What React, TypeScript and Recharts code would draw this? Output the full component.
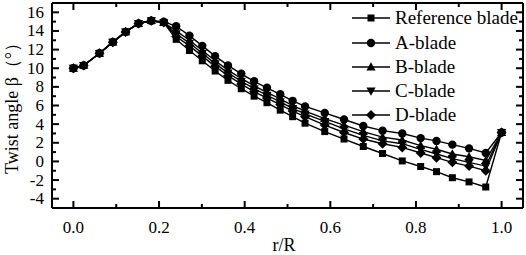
import * as React from "react";
import { LineChart, Line, XAxis, YAxis, Legend } from "recharts";

// r/R stations along the blade
const rValues = [
  0.0, 0.024, 0.061, 0.092, 0.122, 0.152, 0.182, 0.211, 0.24, 0.271, 0.301,
  0.331, 0.361, 0.392, 0.422, 0.452, 0.483, 0.512, 0.541, 0.587, 0.632, 0.677,
  0.722, 0.768, 0.811, 0.848, 0.885, 0.924, 0.963, 1.0,
];

// twist angle (deg) per blade
const refBlade = [
  10.0, 10.3, 11.6, 12.8, 13.9, 14.8, 15.1, 14.9, 13.1, 11.9, 10.8, 9.7, 8.7,
  7.8, 7.0, 6.3, 5.5, 4.8, 4.1, 3.2, 2.4, 1.6, 0.85, 0.05, -0.55, -1.1, -1.75,
  -2.2, -2.75, 3.1,
];
const aBlade = [
  10.0, 10.3, 11.6, 12.8, 13.9, 14.8, 15.1, 15.0, 14.5, 13.5, 12.4, 11.3, 10.3,
  9.4, 8.6, 7.9, 7.2, 6.5, 5.9, 5.2, 4.5, 3.8, 3.3, 3.0, 2.5, 2.2, 1.8, 1.4,
  0.9, 3.1,
];
const bBlade = [
  10.0, 10.3, 11.6, 12.8, 13.9, 14.8, 15.1, 14.9, 14.0, 13.0, 11.9, 10.8, 9.8,
  8.9, 8.1, 7.4, 6.7, 6.0, 5.4, 4.6, 3.9, 3.2, 2.6, 2.3, 1.7, 1.3, 0.8, 0.5,
  0.1, 3.1,
];
const cBlade = [
  10.0, 10.3, 11.6, 12.8, 13.9, 14.8, 15.1, 14.9, 13.7, 12.7, 11.6, 10.5, 9.5,
  8.6, 7.8, 7.1, 6.4, 5.7, 5.1, 4.3, 3.5, 2.8, 2.2, 1.9, 1.3, 0.8, 0.3, -0.1,
  -0.5, 3.1,
];
const dBlade = [
  10.0, 10.3, 11.6, 12.8, 13.9, 14.8, 15.1, 14.9, 13.4, 12.4, 11.3, 10.2, 9.2,
  8.3, 7.5, 6.8, 6.1, 5.4, 4.8, 3.9, 3.1, 2.4, 1.9, 1.5, 0.9, 0.4, -0.1, -0.5,
  -1.0, 3.1,
];

const xTicks = [0, 0.1, 0.2, 0.3, 0.4, 0.5, 0.6, 0.7, 0.8, 0.9, 1.0];
const yTicks = [-4, -3, -2, -1, 0, 1, 2, 3, 4, 5, 6, 7, 8, 9, 10, 11, 12, 13, 14, 15, 16];

const series = [
  { key: "ref", name: "Reference blade", shape: "square" },
  { key: "a", name: "A-blade", shape: "circle" },
  { key: "b", name: "B-blade", shape: "up" },
  { key: "c", name: "C-blade", shape: "down" },
  { key: "d", name: "D-blade", shape: "diamond" },
];

const data = rValues.map((r, i) => ({
  r,
  ref: refBlade[i],
  a: aBlade[i],
  b: bBlade[i],
  c: cBlade[i],
  d: dBlade[i],
}));

const FONT = "'Liberation Serif', 'Times New Roman', serif";

function Marker({ shape, cx, cy }: { shape: string; cx: number; cy: number }) {
  if (cx == null || cy == null) return null;
  switch (shape) {
    case "square":
      return <rect x={cx - 3.5} y={cy - 3.5} width={7} height={7} fill="#000" />;
    case "circle":
      return <circle cx={cx} cy={cy} r={4.2} fill="#000" />;
    case "up":
      return <polygon points={`${cx},${cy - 4.8} ${cx + 4.6},${cy + 3.4} ${cx - 4.6},${cy + 3.4}`} fill="#000" />;
    case "down":
      return <polygon points={`${cx},${cy + 4.8} ${cx + 4.6},${cy - 3.4} ${cx - 4.6},${cy - 3.4}`} fill="#000" />;
    default:
      return <polygon points={`${cx},${cy - 5} ${cx + 5},${cy} ${cx},${cy + 5} ${cx - 5},${cy}`} fill="#000" />;
  }
}

const isMajorX = (v: number) => Math.abs(v * 5 - Math.round(v * 5)) < 1e-6;
const isMajorY = (v: number) => Math.abs(v) % 2 === 0;

function tick(side: "bottom" | "top" | "left" | "right") {
  return (props: any) => {
    const { x, y, payload } = props;
    const v = payload.value;
    const major = side === "bottom" || side === "top" ? isMajorX(v) : isMajorY(v);
    const len = major ? 7 : 4;
    let line;
    if (side === "bottom") line = <line x1={x} x2={x} y1={y} y2={y - len} stroke="#000" strokeWidth={2} />;
    else if (side === "top") line = <line x1={x} x2={x} y1={y} y2={y + len} stroke="#000" strokeWidth={2} />;
    else if (side === "left") line = <line x1={x} x2={x + len} y1={y} y2={y} stroke="#000" strokeWidth={2} />;
    else line = <line x1={x} x2={x - len} y1={y} y2={y} stroke="#000" strokeWidth={2} />;
    let label = null;
    if (major && side === "bottom") {
      label = (
        <text x={x} y={y + 25} textAnchor="middle" fontSize={17} fontFamily={FONT} fill="#000">
          {v.toFixed(1)}
        </text>
      );
    } else if (major && side === "left") {
      label = (
        <text x={x - 8} y={y + 5.5} textAnchor="end" fontSize={17} fontFamily={FONT} fill="#000">
          {String(v)}
        </text>
      );
    }
    return (
      <g>
        {line}
        {label}
      </g>
    );
  };
}

function LegendBox() {
  const rowY = [18, 43, 67, 91, 115];
  return (
    <svg width={180} height={130} style={{ position: "absolute", left: 346, top: 0 }}>
      {series.map((s, i) => (
        <g key={s.key}>
          <line x1={6} x2={44} y1={rowY[i]} y2={rowY[i]} stroke="#000" strokeWidth={1.4} />
          <Marker shape={s.shape} cx={25} cy={rowY[i]} />
          <text x={49} y={rowY[i] + 6} fontSize={19} fontFamily={FONT} fill="#000">
            {s.name}
          </text>
        </g>
      ))}
    </svg>
  );
}

export default function App() {
  return (
    <div style={{ position: "absolute", left: 0, top: 0, width: 526, height: 255, background: "#fff" }}>
      <LineChart width={526} height={255} data={data} margin={{ top: 0, right: 0, bottom: 0, left: 0 }}>
        <XAxis
          dataKey="r"
          type="number"
          domain={[-0.05, 1.05]}
          ticks={xTicks}
          interval={0}
          height={47}
          tickSize={0}
          tickMargin={0}
          tickLine={false}
          axisLine={{ stroke: "#000", strokeWidth: 2 }}
          tick={tick("bottom")}
          allowDataOverflow
          label={{
            content: () => (
              <text x={284} y={251} textAnchor="middle" fontSize={18} fontFamily={FONT} fill="#000">
                r/R
              </text>
            ),
          }}
        />
        <XAxis
          xAxisId="top"
          orientation="top"
          dataKey="r"
          type="number"
          domain={[-0.05, 1.05]}
          ticks={xTicks}
          interval={0}
          height={3}
          tickSize={0}
          tickMargin={0}
          tickLine={false}
          axisLine={{ stroke: "#000", strokeWidth: 2 }}
          tick={tick("top")}
          allowDataOverflow
        />
        <YAxis
          type="number"
          domain={[-5, 17]}
          ticks={yTicks}
          interval={0}
          width={52}
          tickSize={0}
          tickMargin={0}
          tickLine={false}
          axisLine={{ stroke: "#000", strokeWidth: 2 }}
          tick={tick("left")}
          allowDataOverflow
          label={{
            content: () => (
              <text
                x={0}
                y={0}
                transform="translate(18,104) rotate(-90)"
                textAnchor="middle"
                fontSize={18}
                fontFamily={FONT}
                fill="#000"
              >
                Twist angle β（°）
              </text>
            ),
          }}
        />
        <YAxis
          yAxisId="right"
          orientation="right"
          type="number"
          domain={[-5, 17]}
          ticks={yTicks}
          interval={0}
          width={3}
          tickSize={0}
          tickMargin={0}
          tickLine={false}
          axisLine={{ stroke: "#000", strokeWidth: 2 }}
          tick={tick("right")}
          allowDataOverflow
        />
        {series.map((s) => (
          <Line
            key={s.key}
            dataKey={s.key}
            name={s.name}
            stroke="#000"
            strokeWidth={1.4}
            isAnimationActive={false}
            dot={(p: any) => <Marker key={`${s.key}-${p.index}`} shape={s.shape} cx={p.cx} cy={p.cy} />}
          />
        ))}
        <Legend content={() => null} />
      </LineChart>
      <LegendBox />
    </div>
  );
}
